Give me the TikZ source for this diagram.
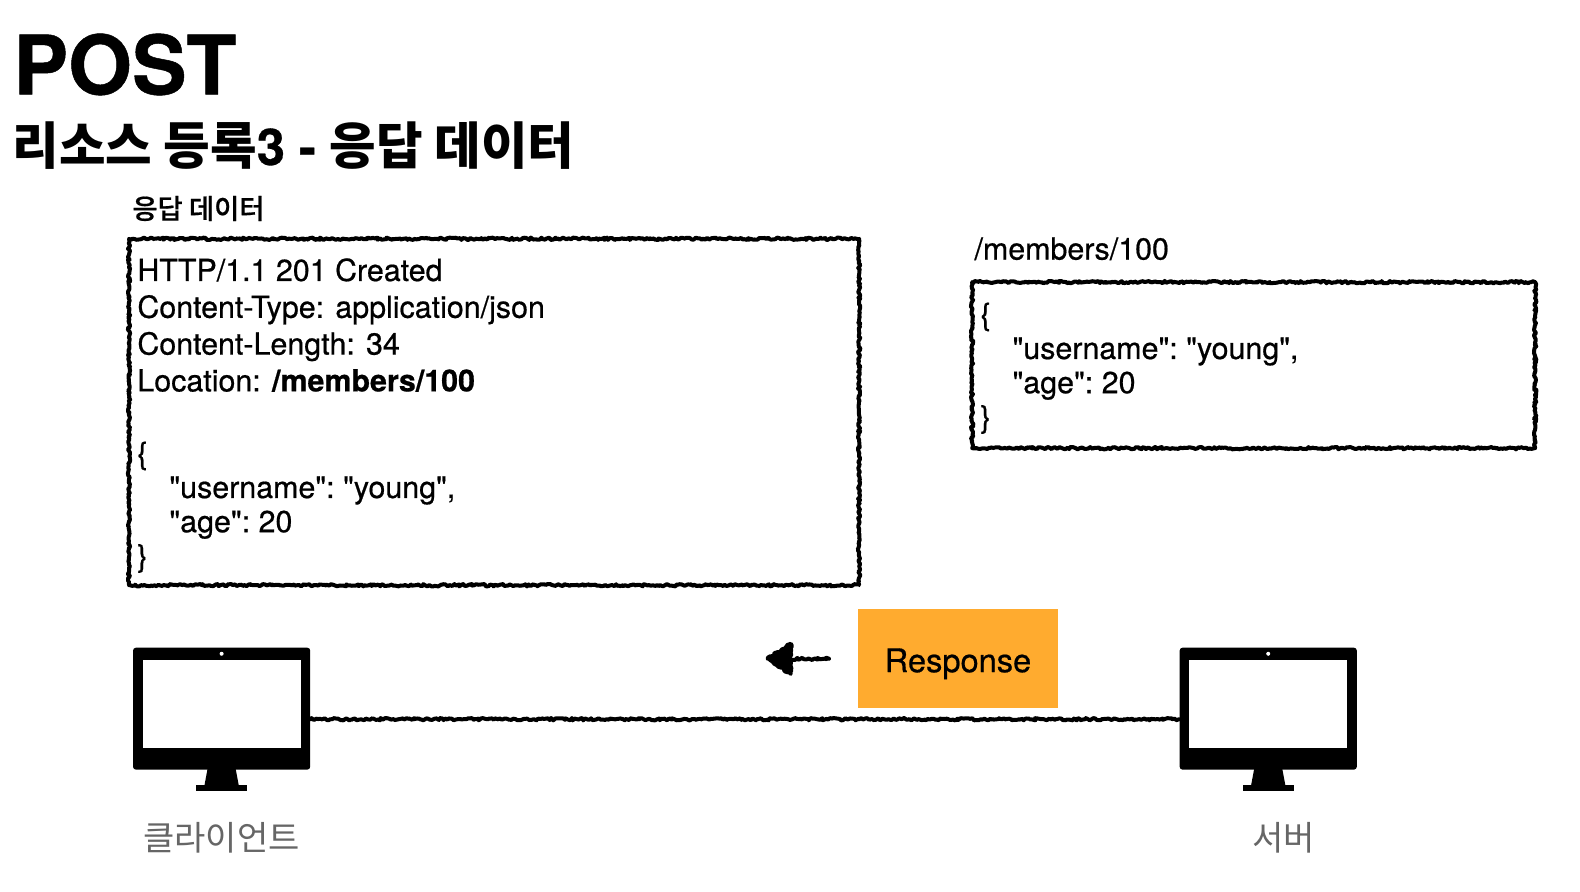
\documentclass[tikz,border=0pt]{standalone}
\usepackage{fontspec}
\newfontfamily\bodyfont{TeX Gyre Heros}[RawFeature={embolden=0.6}]
\newfontfamily\krfont{Noto Sans CJK KR}
\newfontfamily\krmedium{Noto Sans CJK KR Medium}[RawFeature={embolden=0.6}]
\usetikzlibrary{decorations.pathmorphing}
\definecolor{respcolor}{HTML}{FFAB2F}
\definecolor{labelgray}{HTML}{666666}
\tikzset{
  rough/.style={draw=black,line width=2pt,line join=round,line cap=round,decorate,decoration={random steps,segment length=0.9pt,amplitude=0.6pt}},
  roughbox/.style={rough,rectangle,inner sep=0pt},
  bodytext/.style={anchor=north west,inner sep=0pt,align=left,font=\fontsize{15.2}{17.1}\selectfont\bodyfont\frenchspacing},
  monitor/.pic={
    \node [fill=black,rounded corners=1.5pt,minimum width=88.6pt,minimum height=61pt,inner sep=0pt] (-body) at (0,0) {};
    \node [fill=white,minimum width=79pt,minimum height=44.3pt,inner sep=0pt] (-screen) at (0,-4.5) {};
    \fill [black] (-14,60) -- (-17,76) -- (17,76) -- (14,60) -- cycle;
    \fill [black] (-25.5,76) rectangle (25.5,82);
    \fill [white] (0,-54.5) circle (1pt);
  }
}
\begin{document}
\begin{tikzpicture}[x=0.5036pt,y=-0.5036pt]
\useasboundingbox (0,0) rectangle (1568.5,885.5);
\node [anchor=west,inner sep=0pt,font=\fontsize{41}{41}\selectfont\bodyfont\bfseries] (title) at (13,64) {POST};
\node [anchor=west,inner sep=0pt,font=\fontsize{25.3}{25.3}\selectfont\bfseries] (subtitle) at (12,145) {\krfont 리소스 등록\bodyfont\bfseries 3 - \krfont 응답 데이터};
\node [anchor=west,inner sep=0pt,font=\fontsize{13.7}{13.7}\selectfont\krmedium] (resplabel) at (131,207) {응답 데이터};
\node [roughbox,minimum width=365pt,minimum height=173.2pt] (respbox) at (490.5,409) {};
\node [bodytext,font=\fontsize{15.2}{18.4}\selectfont\bodyfont] (resphead) at (136,256) {HTTP/1.1 201 Created\\Content-Type: application/json\\Content-Length: 34\\Location: \textbf{/members/100}};
\node [bodytext] (respbody) at (136,438) {\{\\\hspace{16pt}"username": "young",\\\hspace{16pt}"age": 20\\\}};
\node [anchor=west,inner sep=0pt,font=\fontsize{15.2}{15.2}\selectfont\bodyfont] (memberlabel) at (967,247) {/members/100};
\node [roughbox,minimum width=281.5pt,minimum height=83pt] (memberbox) at (1244.5,362.5) {};
\node [bodytext] (memberbody) at (973,300) {\{\\\hspace{16pt}"username": "young",\\\hspace{16pt}"age": 20\\\}};
\node [fill=respcolor,minimum width=99.7pt,minimum height=49.4pt,inner sep=0pt,font=\fontsize{16.3}{16.3}\selectfont\bodyfont] (resp) at (951,654) {\raisebox{-2.5pt}[\height][\depth]{Response}};
\pic (client) at (220,703.5) {monitor};
\pic (server) at (1259,703.5) {monitor};
\draw [rough] (client-body.east |- 0,714) -- (server-body.west |- 0,714);
\coordinate (arrowstart) at (823,654);
\coordinate (arrowend) at (780,654);
\draw [rough] (arrowstart) -- (arrowend);
\fill [black,rough] (785,639) -- (762,654) -- (785,669) -- cycle;
\node [inner sep=0pt,font=\fontsize{17}{17}\selectfont\krfont,text=labelgray] (clientlabel) at (220,832) {클라이언트};
\node [inner sep=0pt,font=\fontsize{17}{17}\selectfont\krfont,text=labelgray] (serverlabel) at (1274,832) {서버};
\end{tikzpicture}
\end{document}
